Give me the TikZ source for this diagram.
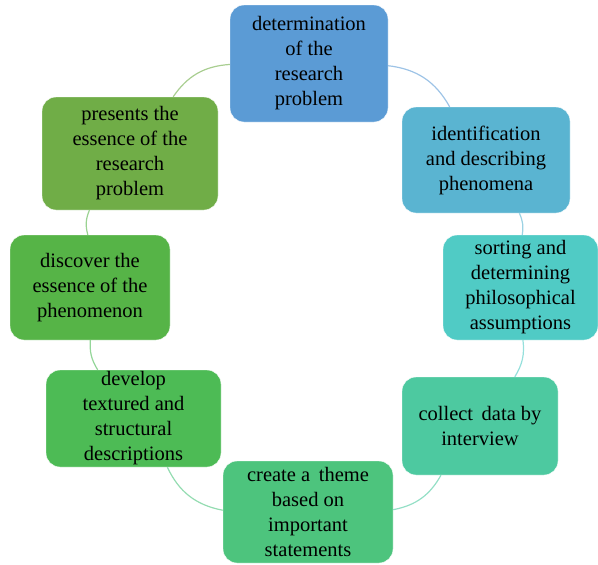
\documentclass[tikz,border=0pt]{standalone}
\usepackage{fontspec}
\setmainfont{Liberation Serif}

\definecolor{c1}{HTML}{5B9BD5}
\definecolor{c2}{HTML}{5AB4D1}
\definecolor{c3}{HTML}{50CBC5}
\definecolor{c4}{HTML}{4DC9A0}
\definecolor{c5}{HTML}{4DC47D}
\definecolor{c6}{HTML}{4DBB55}
\definecolor{c7}{HTML}{56B447}
\definecolor{c8}{HTML}{70AD47}

\begin{document}
\begin{tikzpicture}[x=1pt, y=-1pt,
  stage/.style = {draw=white, thin, rounded corners=14pt, align=center,
    font=\fontsize{20.5}{25}\selectfont, inner sep=1pt},
  link/.style = {line width=1.2pt}]
\useasboundingbox (0,0) rectangle (598,565);
			\node[stage, fill=c1, minimum width=158pt, minimum height=117pt] (1) at (309,63.5) {determination\\of the\\research\\problem};
			\node[stage, fill=c2, minimum width=168pt, minimum height=106pt] (2) at (486,160) {identification\\and describing\\phenomena};
			\node[stage, fill=c3, minimum width=155pt, minimum height=105pt] (3) at (520.5,287.5) {sorting and\\determining\\philosophical\\assumptions};
			\node[stage, fill=c4, minimum width=156pt, minimum height=98pt] (4) at (480,426) {collect\, data by\\interview};
			\node[stage, fill=c5, minimum width=170pt, minimum height=102pt] (5) at (308,512) {create a\, theme\\based on\\important\\statements};
			\node[stage, fill=c6, minimum width=175pt, minimum height=97pt] (6) at (133.5,418.5) {develop\\textured and\\structural\\descriptions};
			\node[stage, fill=c7, minimum width=160pt, minimum height=105pt] (7) at (90,287.5) {discover the\\essence of the\\phenomenon};
			\node[stage, fill=c8, minimum width=176pt, minimum height=113pt] (8) at (130,153.5) {presents the\\essence of the\\research\\problem};
			\draw[link, c1!60] (1) to[bend left=27] (2);
			\draw[link, c2!60] (2) to[bend left=17] (3);
			\draw[link, c3!60] (3) to[bend left=19] (4);
			\draw[link, c4!60] (4) to[bend left=25] (5);
			\draw[link, c5!60] (5) to[bend left=27] (6);
			\draw[link, c6!60] (6) to[bend left=18] (7);
			\draw[link, c7!60] (7) to[bend left=19] (8);
			\draw[link, c8!60] (8) to[bend left=26] (1);
		\end{tikzpicture}
\end{document}
